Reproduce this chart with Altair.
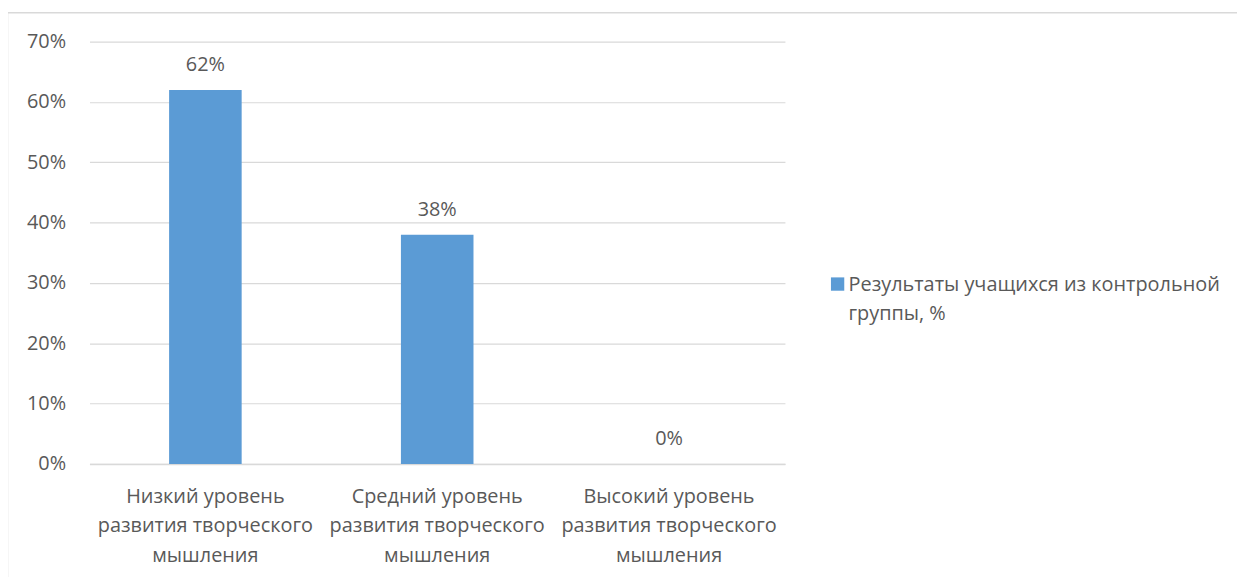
import altair as alt
import pandas as pd

categories = [
    "Низкий уровень|развития творческого|мышления",
    "Средний уровень|развития творческого|мышления",
    "Высокий уровень|развития творческого|мышления",
]
values = [0.62, 0.38, 0.0]
series_name = "Результаты учащихся из контрольной группы, %"

df = pd.DataFrame({"cat": categories, "val": values, "series": [series_name] * 3})

FONT = "Open Sans"
FS = 20
TXT = "#595959"
LH = 29.5
SHIFT = 9

base = alt.Chart(df)

bars = base.mark_bar(width={"band": 0.313}).encode(
    x=alt.X("cat:N", sort=categories, title=None,
            scale=alt.Scale(paddingInner=0, paddingOuter=0),
            axis=alt.Axis(labelAngle=0, labelExpr="split(datum.label, '|')",
                          labelFont=FONT, labelFontSize=FS, labelColor=TXT,
                          labelPadding=23 + SHIFT, ticks=False, domainColor="#d9d9d9",
                          domainWidth=1.5, labelLineHeight=LH, labelBaseline="top",
                          labelLimit=400)),
    y=alt.Y("val:Q", title=None,
            scale=alt.Scale(domain=[0, 0.7], nice=False),
            axis=alt.Axis(format=".0%", values=[0, 0.1, 0.2, 0.3, 0.4, 0.5, 0.6, 0.7],
                          labelFont=FONT, labelFontSize=FS, labelColor=TXT,
                          labelPadding=24, labelOffset=SHIFT, ticks=False, domain=False,
                          gridColor="#d9d9d9", gridWidth=1.2)),
    color=alt.Color("series:N", title=None,
                    scale=alt.Scale(range=["#5B9BD5"]),
                    legend=alt.Legend(orient="none", legendX=743, legendY=234,
                                      symbolType="square", symbolSize=180,
                                      symbolStrokeWidth=0, labelFont=FONT,
                                      labelFontSize=FS, labelColor=TXT,
                                      labelLimit=500, labelOffset=1,
                                      labelBaseline="top",
                                      labelExpr="[substring(datum.label,0,34), substring(datum.label,35)]")),
)

labels = base.mark_text(dy=-15, font=FONT, fontSize=FS, color=TXT, baseline="bottom").encode(
    x=alt.X("cat:N", sort=categories),
    y=alt.Y("val:Q"),
    text=alt.Text("val:Q", format=".0%"),
)

border = alt.Chart(pd.DataFrame({"k": [0]})).mark_rect(
    fill=None, stroke="#d9d9d9", strokeWidth=1.5
).encode(
    x=alt.value(-82.5), x2=alt.value(1170), y=alt.value(-29), y2=alt.value(600)
)

chart = alt.layer(border, bars, labels).properties(
    width=700, height=425,
    autosize=alt.AutoSizeParams(type="none"),
    padding={"left": 82, "top": 32, "right": 455, "bottom": 112},
    background="white",
).configure(style={"guide-label": {"lineHeight": LH, "dy": -SHIFT}}).configure_view(stroke=None)

chart.save("out.html", embed_options={"renderer": "svg", "actions": False})
